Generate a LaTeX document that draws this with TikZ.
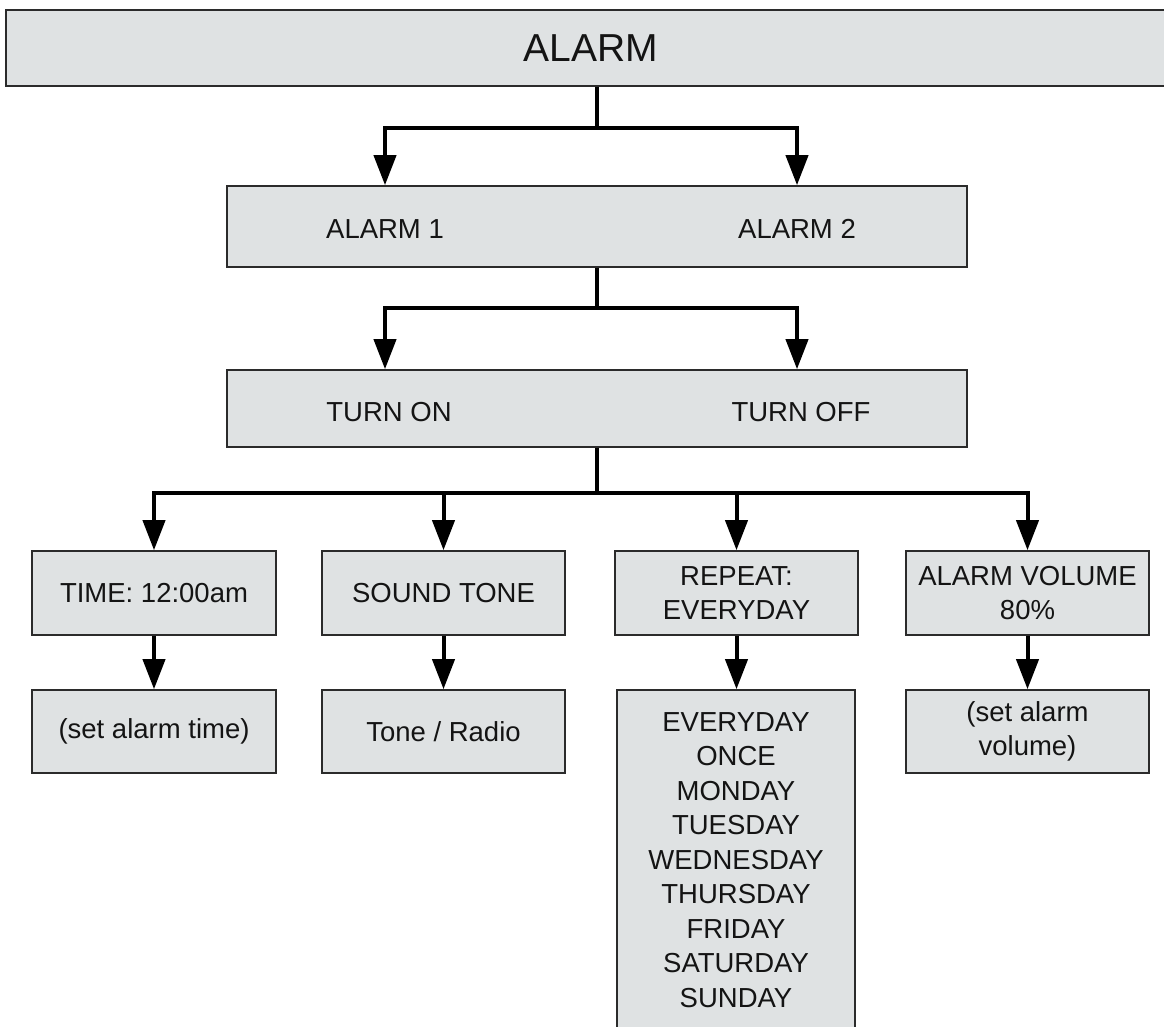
\documentclass[tikz,border=0pt]{standalone}
\usepackage{fontspec}
\setmainfont{Liberation Sans}
\usetikzlibrary{arrows.meta}
\definecolor{boxfill}{HTML}{DFE2E3}
\definecolor{boxline}{HTML}{2B2B2B}
\definecolor{txt}{HTML}{141414}
\newcommand{\fsmain}{\fontsize{27.5}{34.5}\selectfont}
\newcommand{\fsbig}{\fontsize{39}{46}\selectfont}
\begin{document}
\begin{tikzpicture}[x=1pt,y=-1pt,
  box/.style={draw=boxline, line width=1.6pt, fill=boxfill, inner sep=0pt,
    font=\fsmain, align=center, text=txt},
  lbl/.style={inner sep=0pt, font=\fsmain, text=txt, align=center},
  wire/.style={line width=4pt},
  conn/.style={line width=4pt, -{Triangle[length=30pt,width=22pt]}}]
\useasboundingbox (0,0) rectangle (1164,1026);
% boxes
\node[box, minimum width=1169pt, minimum height=76pt, font=\fsbig] (top) at (590.5,48) {ALARM};
\node[box, minimum width=740pt, minimum height=81pt] (mid1) at (597,226.5) {};
\node[lbl] (a1) at (385,229) {ALARM 1};
\node[lbl] (a2) at (797,229) {ALARM 2};
\node[box, minimum width=740pt, minimum height=77pt] (mid2) at (597,408.5) {};
\node[lbl] (on) at (389,412) {TURN ON};
\node[lbl] (off) at (801,412) {TURN OFF};
\node[box, minimum width=244pt, minimum height=84pt] (time) at (154,593) {TIME: 12:00am};
\node[box, minimum width=243pt, minimum height=84pt] (sound) at (443.5,593) {SOUND TONE};
\node[box, minimum width=243pt, minimum height=84pt] (rep) at (736.5,593) {REPEAT:\\EVERYDAY};
\node[box, minimum width=243pt, minimum height=84pt] (vol) at (1027.5,593) {ALARM VOLUME\\80\%};
\node[box, minimum width=244pt, minimum height=83pt] (settime) at (154,731.5) {(set alarm time)};
\node[box, minimum width=243pt, minimum height=83pt] (tone) at (443.5,731.5) {Tone / Radio};
\node[box, minimum width=238pt, minimum height=350pt] (list) at (736,865) {};
\node[lbl] (listtxt) at (736,860) {EVERYDAY\\ONCE\\MONDAY\\TUESDAY\\WEDNESDAY\\THURSDAY\\FRIDAY\\SATURDAY\\SUNDAY};
\node[box, minimum width=243pt, minimum height=83pt] (setvol) at (1027.5,731.5) {(set alarm\\volume)};
% junctions
\coordinate (j1) at (597,128);
\coordinate (j2) at (597,308);
\coordinate (j3) at (597,493);
% connectors
\draw[wire] (top.south -| j1) -- (j1);
\draw[conn] (j1) -| (a1 |- mid1.north);
\draw[conn] (j1) -| (a2 |- mid1.north);
\draw[wire] (mid1.south -| j2) -- (j2);
\draw[conn] (j2) -| (a1 |- mid2.north);
\draw[conn] (j2) -| (a2 |- mid2.north);
\draw[wire] (mid2.south -| j3) -- (j3);
\draw[conn] (j3) -| (time.north);
\draw[conn] (j3) -| (sound.north);
\draw[conn] (j3) -| (rep.north);
\draw[conn] (j3) -| (vol.north);
\draw[conn] (time) -- (settime);
\draw[conn] (sound) -- (tone);
\draw[conn] (rep.south) -- (rep.south |- list.north);
\draw[conn] (vol) -- (setvol);
\end{tikzpicture}
\end{document}
